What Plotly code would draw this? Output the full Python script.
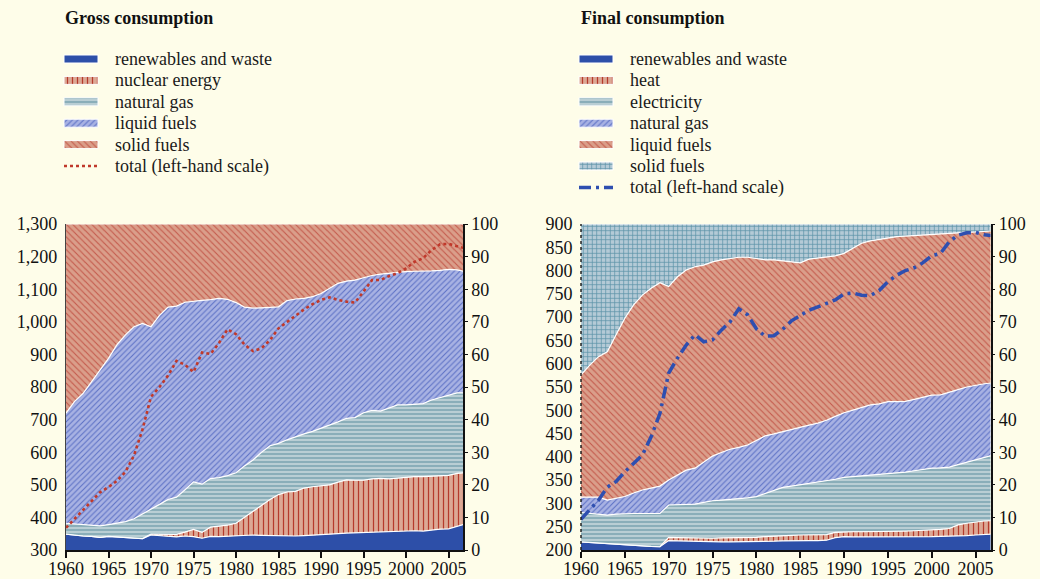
import plotly.graph_objects as go

years = list(range(1960, 2008))

# ---------------- Gross consumption (shares, %) ----------------
gross_renewables = [4.9,4.5,4.3,4.2,3.9,4.2,4.0,3.8,3.7,3.5, 4.6,4.4,4.2,4.0,4.3,4.1,3.6,4.2,4.1,4.2,
                    4.5,4.5,4.6,4.5,4.4,4.3,4.2,4.3,4.4,4.5, 4.8,4.9,5.0,5.2,5.3,5.3,5.4,5.5,5.6,5.7,
                    5.9,5.9,5.8,6.2,6.4,6.5,7.2,8.0]
gross_nuclear = [0,0,0,0,0,0,0,0,0,0, 0.3,0.5,0.7,0.8,1.2,2.2,1.8,2.8,3.2,3.4,
                 3.7,5.5,7.2,9.0,11.1,12.7,13.6,13.7,14.6,14.9, 14.8,15.1,15.8,16.3,16.1,16.1,16.4,16.5,16.2,16.4,
                 16.4,16.6,16.7,16.4,16.4,16.4,16.3,15.7]
gross_gas = [3.3,3.5,3.5,3.4,3.5,3.6,4.3,4.9,5.9,7.5, 7.6,9.1,10.6,11.4,13.0,14.6,14.8,14.9,14.9,15.2,
             15.5,15.8,15.8,16.5,16.5,15.7,16.0,16.8,16.6,17.0, 17.7,18.3,18.5,18.9,19.2,20.7,21.0,20.6,21.7,22.4,
             22.2,22.1,22.4,23.4,24.0,24.6,24.7,24.5]
gross_liquid = [33.8,37.5,40.2,43.9,47.6,51.0,54.7,57.3,58.9,58.5, 56.0,58.0,59.0,58.6,57.5,55.5,56.4,54.9,55.0,54.1,
                52.2,48.7,46.6,44.3,42.4,41.9,42.7,42.2,41.6,41.3, 41.4,41.9,42.5,42.1,42.2,41.4,41.4,42.0,41.4,40.7,
                40.9,40.9,40.6,39.6,39.0,38.6,37.7,37.2]
gross_solid = [58.0,54.5,52.0,48.5,45.0,41.2,37.0,34.0,31.5,30.5, 31.5,28.0,25.5,25.2,24.0,23.6,23.4,23.2,22.8,23.1,
               24.1,25.5,25.8,25.7,25.6,25.4,23.5,23.0,22.8,22.3, 21.3,19.8,18.2,17.5,17.2,16.5,15.8,15.4,15.1,14.8,
               14.6,14.5,14.5,14.4,14.2,13.9,14.1,14.6]
gross_total = [368,395,425,452,477,493,512,540,590,670, 770,800,835,880,868,846,906,901,935,977,
               962,930,910,919,944,980,1000,1018,1038,1054, 1067,1075,1067,1062,1059,1093,1128,1128,1140,1149,
               1164,1184,1195,1220,1238,1239,1233,1225]

# ---------------- Final consumption (shares, %) ----------------
final_renewables = [2.5,2.3,2.1,2.0,1.8,1.6,1.5,1.3,1.1,1.0, 2.9,2.8,2.7,2.6,2.6,2.5,2.5,2.5,2.5,2.5,
                    2.5,2.6,2.7,2.8,2.9,2.9,2.9,2.9,3.0,3.8, 4.1,4.0,4.0,3.9,3.9,3.9,4.0,4.0,4.0,4.1,
                    4.1,4.2,4.2,4.3,4.4,4.6,4.8,4.9]
final_heat = [0,0,0,0,0,0,0,0,0,0, 1.0,1.0,1.0,1.0,1.0,1.1,1.2,1.2,1.2,1.3,
              1.4,1.5,1.6,1.6,1.6,1.7,1.7,1.8,1.7,1.6, 1.5,1.6,1.6,1.7,1.7,1.7,1.7,1.8,1.9,1.9,
              2.0,2.1,2.4,3.4,3.8,4.0,4.1,4.1]
final_electricity = [9.0,8.9,8.9,8.7,9.2,9.6,9.7,9.9,10.1,10.2, 9.9,10.1,10.3,10.5,11.0,11.5,11.6,11.8,12.0,12.2,
                     12.5,13.2,13.9,14.8,15.1,15.4,15.8,16.0,16.4,16.3, 16.7,16.9,17.1,17.3,17.5,17.7,17.9,18.1,18.4,18.7,
                     19.0,18.9,18.8,18.5,18.7,19.0,19.4,20.1]
final_gas = [4.7,5.1,5.2,4.6,4.8,5.2,6.3,7.2,7.8,8.4, 7.7,9.1,10.5,11.0,12.4,13.7,14.6,15.4,15.8,16.2,
             17.2,17.7,17.4,17.1,17.4,17.8,17.9,18.2,18.7,19.3, 19.8,20.4,21.0,21.6,21.7,22.2,21.9,21.7,21.9,22.2,
             22.4,22.4,22.9,23.0,23.1,23.0,22.7,22.2]
final_liquid = [37.5,40.4,43.1,45.5,50.2,54.7,57.7,59.8,61.3,62.4, 59.3,60.8,61.4,61.8,60.4,59.6,59.1,58.6,58.3,57.6,
                55.7,54.0,53.4,52.4,51.4,50.3,50.9,50.6,49.9,49.2, 48.9,49.6,50.4,50.3,50.5,50.2,50.6,50.7,50.3,49.8,
                49.4,49.4,48.8,48.1,47.4,47.0,46.8,46.6]
final_solid = [46.3,43.3,40.7,39.2,34.0,28.9,24.8,21.8,19.7,18.0, 19.2,16.2,14.1,13.1,12.6,11.6,11.0,10.5,10.2,10.2,
               10.7,11.0,11.0,11.3,11.6,11.9,10.8,10.5,10.3,9.8, 9.0,7.5,5.9,5.2,4.7,4.3,3.9,3.7,3.5,3.3,
               3.1,3.0,2.9,2.7,2.6,2.4,2.2,2.1]
final_total = [266,286,307,335,347,368,386,404,443,493, 580,612,640,662,647,651,672,690,718,705,
               675,659,660,674,692,703,715,722,729,737, 750,752,747,746,757,776,790,800,806,817,
               832,837,862,876,881,882,877,875]

tick_years = list(range(1960, 2006, 5))

gross_names = ["renewables and waste", "nuclear energy", "natural gas", "liquid fuels", "solid fuels"]
final_names = ["renewables and waste", "heat", "electricity", "natural gas", "liquid fuels", "solid fuels"]
total_name = "total (left-hand scale)"

FONT = "Liberation Serif, Times New Roman, DejaVu Serif, serif"
BG = "#FEFDE9"
W, H = 1040, 579

# styles: (fill bg, pattern shape, pattern fg, size, solidity)
S_REN = ("#2D4FA8", "", None, 6, 0.3)
S_VERT = ("#DCA895", "|", "#B53A2C", 5, 0.25)
S_HOR = ("#B9CED4", "-", "#5B8E9E", 4, 0.25)
S_FWD = ("#A8B2E3", "/", "#5A6FC4", 4, 0.25)
S_BACK = ("#DA9E8A", "\\", "#C45A4C", 4.5, 0.25)
S_GRID = ("#B4CAD6", "+", "#5C93A8", 4.5, 0.3)

gross_styles = [S_REN, S_VERT, S_HOR, S_FWD, S_BACK]
final_styles = [S_REN, S_VERT, S_HOR, S_FWD, S_BACK, S_GRID]
gross_line = dict(color="#C0392B", width=2.6, dash="dot")
final_line = dict(color="#2E4FB0", width=3.5, dash="12px,5px,3px,5px")

fig = go.Figure()


def pattern(style):
    bg, shape, fg, size, sol = style
    if not shape:
        return None
    return dict(shape=shape, fgcolor=fg, bgcolor=bg, size=size, solidity=sol, fillmode="replace")


def add_area(name, vals, style, group, xa, ya):
    kw = dict(x=years, y=vals, name=name, stackgroup=group, mode="lines",
              line=dict(color="white", width=1.2), fillcolor=style[0],
              xaxis=xa, yaxis=ya, showlegend=False, hoverinfo="skip")
    p = pattern(style)
    if p:
        kw["fillpattern"] = p
    fig.add_trace(go.Scatter(**kw))


for n, v, s in zip(gross_names, [gross_renewables, gross_nuclear, gross_gas, gross_liquid, gross_solid], gross_styles):
    add_area(n, v, s, "g", "x", "y")
fig.add_trace(go.Scatter(x=years, y=gross_total, name=total_name, mode="lines", line=gross_line,
                         xaxis="x", yaxis="y2", showlegend=False))

for n, v, s in zip(final_names, [final_renewables, final_heat, final_electricity, final_gas, final_liquid, final_solid], final_styles):
    add_area(n, v, s, "f", "x2", "y3")
fig.add_trace(go.Scatter(x=years, y=final_total, name=total_name, mode="lines", line=final_line,
                         xaxis="x2", yaxis="y4", showlegend=False))

# ---------------- custom legends (pixel-space overlay axes) ----------------
annotations = []
ROW0, ROWSTEP, SW_W, SW_H, TXT_DX = 59, 21.4, 34, 8, 49


def build_legend(x0, names, styles, tline):
    for i, (n, s) in enumerate(zip(names, styles)):
        yc = ROW0 + i * ROWSTEP
        xs = [x0, x0 + SW_W, x0 + SW_W, x0, x0]
        ys = [yc - SW_H / 2, yc - SW_H / 2, yc + SW_H / 2, yc + SW_H / 2, yc - SW_H / 2]
        kw = dict(x=xs, y=ys, fill="toself", mode="lines", line=dict(color="white", width=1),
                  fillcolor=s[0], xaxis="x3", yaxis="y5", showlegend=False, hoverinfo="skip")
        p = pattern(s)
        if p:
            kw["fillpattern"] = p
        fig.add_trace(go.Scatter(**kw))
        annotations.append(dict(text=n, x=x0 + TXT_DX, y=yc, xref="x3", yref="y5", xanchor="left",
                                yanchor="middle", showarrow=False,
                                font=dict(family=FONT, size=18, color="#1a1a1a")))
    yc = ROW0 + len(names) * ROWSTEP
    fig.add_trace(go.Scatter(x=[x0, x0 + SW_W], y=[yc, yc], mode="lines", line=tline,
                             xaxis="x3", yaxis="y5", showlegend=False, hoverinfo="skip"))
    annotations.append(dict(text=total_name, x=x0 + TXT_DX, y=yc, xref="x3", yref="y5", xanchor="left",
                            yanchor="middle", showarrow=False,
                            font=dict(family=FONT, size=18, color="#1a1a1a")))


build_legend(64, gross_names, gross_styles, gross_line)
build_legend(579, final_names, final_styles, final_line)

annotations += [
    dict(text="<b>Gross consumption</b>", x=63, y=18, xref="x3", yref="y5",
         xanchor="left", yanchor="middle", showarrow=False, font=dict(family=FONT, size=18, color="#111")),
    dict(text="<b>Final consumption</b>", x=579, y=18, xref="x3", yref="y5",
         xanchor="left", yanchor="middle", showarrow=False, font=dict(family=FONT, size=18, color="#111")),
]

ydom = [(H - 550) / H, (H - 224) / H]
tickfont = dict(family=FONT, size=18, color="#111")

xcommon = dict(range=[1960, 2006.7], tickvals=tick_years, ticks="outside", ticklen=6,
               tickwidth=1.5, tickcolor="#111", showline=True, linecolor="#111", linewidth=1.5,
               showgrid=False, zeroline=False, tickfont=tickfont, fixedrange=True, ticklabelstandoff=-4)
pct_common = dict(range=[0, 100], dtick=10, side="right", showline=True, linecolor="#111",
                  linewidth=1.5, showgrid=False, zeroline=False, tickfont=tickfont,
                  ticks="outside", ticklen=3, tickcolor="#111", domain=ydom)
tot_common = dict(side="left", showgrid=False, zeroline=False, tickfont=tickfont,
                  ticks="outside", ticklen=4, tickcolor="rgba(0,0,0,0)")

fig.update_layout(
    width=W, height=H, paper_bgcolor=BG, plot_bgcolor="rgba(0,0,0,0)",
    margin=dict(l=0, r=0, t=0, b=0, autoexpand=False),
    font=dict(family=FONT, color="#111"),
    xaxis=dict(domain=[66 / W, 463 / W], anchor="y", **xcommon),
    yaxis=dict(anchor="x", **pct_common),
    yaxis2=dict(overlaying="y", anchor="x", range=[300, 1300], dtick=100, tickformat=",",
                showline=True, linecolor="#444", linewidth=1.2, **tot_common),
    xaxis2=dict(domain=[581 / W, 990.5 / W], anchor="y3", **xcommon),
    yaxis3=dict(anchor="x2", **pct_common),
    yaxis4=dict(overlaying="y3", anchor="x2", range=[200, 900], dtick=50, showline=False, **tot_common),
    xaxis3=dict(domain=[0, 1], range=[0, W], visible=False, fixedrange=True, anchor="y5"),
    yaxis5=dict(domain=[0, 1], range=[H, 0], visible=False, fixedrange=True, anchor="x3"),
    shapes=[dict(type="line", xref="paper", yref="paper", x0=581 / W, x1=581 / W, y0=ydom[0], y1=ydom[1],
                 line=dict(color="#222", width=1.5, dash="dot"), layer="above")],
    annotations=annotations,
    showlegend=False,
)

fig.write_html("out.html", config={"displayModeBar": False},
               post_script="document.body.style.margin='0';document.body.style.background='" + BG + "';")
